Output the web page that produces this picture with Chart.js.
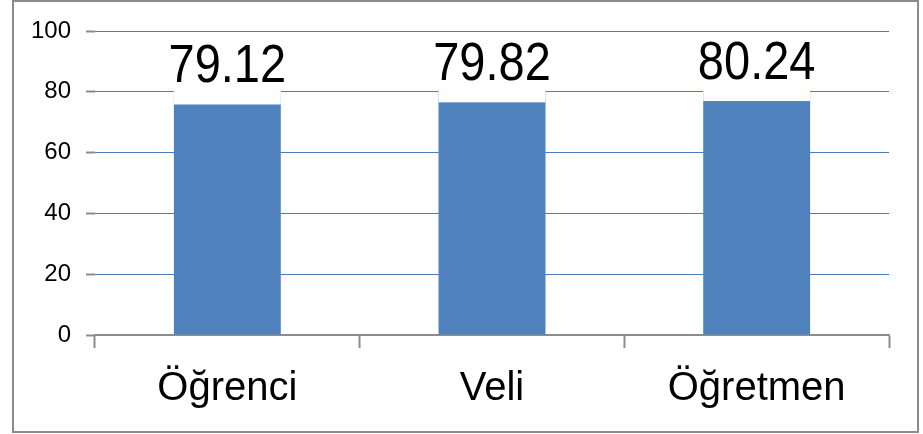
<!DOCTYPE html>
<html><head><meta charset="utf-8">
<script src="https://cdn.jsdelivr.net/npm/chart.js@4/dist/chart.umd.min.js"></script>
<style>html,body{margin:0;padding:0;background:#fff}#wrap{width:923px;height:434px;position:relative}</style>
</head><body><div id="wrap"><canvas id="c" width="923" height="434"></canvas></div>
<script>
const categories = ['Öğrenci', 'Veli', 'Öğretmen'];
const values = [79.12, 79.82, 80.24];
const yTicks = [0, 20, 40, 60, 80, 100];

const frame = {
  id: 'frame',
  beforeDraw(chart) {
    const ctx = chart.ctx;
    ctx.save();
    ctx.fillStyle = '#fff';
    ctx.fillRect(0, 0, chart.width, chart.height);
    ctx.strokeStyle = '#8c8c8c';
    ctx.lineWidth = 2;
    ctx.strokeRect(13, 1, 905, 431);
    ctx.restore();
  }
};

const labelsPlugin = {
  id: 'valueLabels',
  afterDatasetsDraw(chart) {
    const ctx = chart.ctx;
    const meta = chart.getDatasetMeta(0);
    ctx.save();
    meta.data.forEach((bar, i) => {
      const w = bar.width;
      const baseY = bar.y - 12;
      // white label box covering bar top
      ctx.fillStyle = '#fff';
      ctx.fillRect(bar.x - w / 2, baseY - 46, w, (bar.y + 10) - (baseY - 46));
      ctx.save();
      ctx.translate(bar.x, baseY);
      ctx.scale(1, 1.15);
      ctx.fillStyle = '#000';
      ctx.font = '47px "Liberation Sans", Arial, sans-serif';
      ctx.textAlign = 'center';
      ctx.textBaseline = 'alphabetic';
      ctx.fillText(values[i].toFixed(2), 0, 0);
      ctx.restore();
    });
    ctx.restore();
  }
};

new Chart(document.getElementById('c'), {
  type: 'bar',
  data: {
    labels: categories,
    datasets: [{
      data: values,
      backgroundColor: '#4f81bd',
      barPercentage: 0.404,
      categoryPercentage: 1.0
    }]
  },
  options: {
    responsive: false,
    animation: false,
    devicePixelRatio: 1,
    layout: { padding: { left: 0, right: 34, top: 31, bottom: 0 } },
    plugins: { legend: { display: false }, tooltip: { enabled: false } },
    scales: {
      x: {
        grid: {
          offset: true,
          drawOnChartArea: false,
          drawTicks: true,
          tickLength: 13,
          tickColor: '#8c8c8c',
          tickWidth: 2
        },
        border: { display: true, color: '#8c8c8c', width: 2 },
        ticks: {
          color: '#000',
          padding: 17,
          font: { family: '"Liberation Sans", Arial, sans-serif', size: 40 }
        },
        afterFit(s) { s.height = 99; }
      },
      y: {
        min: 0, max: 100,
        afterBuildTicks(s) { s.ticks = yTicks.map(v => ({ value: v })); },
        grid: {
          color: ctx => ctx.tick && ctx.tick.value === 0 ? 'rgba(0,0,0,0)' : '#4a7ebb',
          lineWidth: 1,
          tickLength: 9,
          tickColor: '#8c8c8c',
          tickWidth: 2
        },
        border: { display: false },
        ticks: {
          color: '#000',
          padding: 15,
          font: { family: '"Liberation Sans", Arial, sans-serif', size: 24 }
        },
        afterFit(s) { s.width = 95; }
      }
    }
  },
  plugins: [frame, labelsPlugin]
});
</script>
</body></html>
